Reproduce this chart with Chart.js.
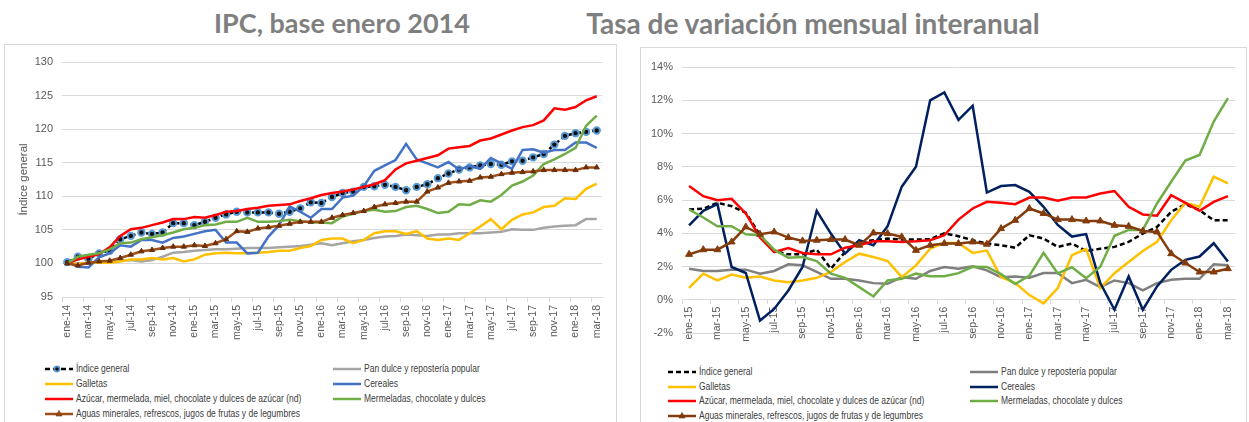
<!DOCTYPE html>
<html lang="es">
<head>
<meta charset="utf-8">
<title>IPC dulces y bebidas</title>
<script src="https://cdn.jsdelivr.net/npm/chart.js@4.4.1/dist/chart.umd.min.js"></script>
<style>
    body {
        margin: 0;
        background: #ffffff;
        width: 1249px;
        height: 422px;
        overflow: hidden;
        position: relative;
        font-family: 'Liberation Sans', sans-serif;
    }
    .titulo {
        position: absolute;
        top: 8px;
        height: 30px;
        line-height: 30px;
        font-family: Lato, 'Open Sans', sans-serif;
        font-weight: 700;
        font-size: 27px;
        color: #7f7f7f;
        text-align: center;
        white-space: nowrap;
    }
    .panel {
        position: absolute;
        border: 1px solid #d9d9d9;
        background: #ffffff;
    }
    canvas {
        position: absolute;
    }
    .leyenda-item {
        position: absolute;
        height: 14px;
        line-height: 14px;
        font-family: 'Liberation Sans', sans-serif;
        font-size: 10px;
        color: #404040;
        white-space: nowrap;
        display: flex;
        align-items: center;
    }
    .leyenda-item svg {
        margin-right: 3px;
        flex: none;
    }
    .leyenda-item span {
        display: inline-block;
        transform: scaleX(0.85);
        transform-origin: left center;
    }
</style>
</head>
<body>

<div class="titulo" style="left:142px; width:400px;">IPC, base enero 2014</div>
<div class="titulo" style="left:463px; width:700px; font-size:28px;">Tasa de variación mensual interanual</div>

<div class="panel" style="left:4px; top:44px; width:611px; height:400px;"></div>
<div class="panel" style="left:640px; top:47px; width:605px; height:400px;"></div>

<canvas id="graficoIPC" width="615" height="312" style="left:0; top:44px;"></canvas>
<canvas id="graficoVariacion" width="605" height="310" style="left:640px; top:47px;"></canvas>

<div id="leyendas"></div>

<script>
// Categorías (meses)
const MESES = ['ene', 'feb', 'mar', 'abr', 'may', 'jun', 'jul', 'ago', 'sep', 'oct', 'nov', 'dic'];
const ANIOS_IPC = ['14', '15', '16', '17', '18'];
const ANIOS_VAR = ['15', '16', '17', '18'];
const MESES_ULTIMO_ANIO = 3; // hasta mar-18

// Marcas del eje Y
const ticksIPC = [95, 100, 105, 110, 115, 120, 125, 130];
const ticksVariacion = [-2, 0, 2, 4, 6, 8, 10, 12, 14];

// Nombres de las series
const nombresSeries = [
    'Índice general',
    'Pan dulce y repostería popular',
    'Galletas',
    'Cereales',
    'Azúcar, mermelada,  miel, chocolate y dulces de azúcar (nd)',
    'Mermeladas, chocolate y dulces',
    'Aguas minerales, refrescos, jugos de frutas y de legumbres'
];

// IPC base enero 2014 (ene-14 .. mar-18)
const ipcGeneral = [100.2, 101.0, 100.7, 101.5, 101.9, 103.6, 104.1, 104.6, 104.4, 104.6,
    106.0, 106.0, 105.7, 106.2, 106.8, 107.3, 107.7, 107.6, 107.6, 107.6,
    107.4, 107.7, 108.2, 109.1, 109.0, 109.9, 110.5, 110.7, 111.4, 111.5,
    111.7, 111.4, 110.9, 111.4, 111.8, 112.7, 113.4, 114.0, 114.3, 114.6,
    114.8, 114.7, 115.2, 115.3, 115.8, 116.3, 117.7, 119.0, 119.4, 119.6, 119.8];
const ipcPanDulce = [100.0, 100.0, 100.1, 100.2, 100.3, 100.4, 100.5, 100.3, 100.5, 101.0,
    101.6, 101.7, 101.9, 102.0, 102.1, 102.1, 102.2, 102.3, 102.3, 102.3,
    102.4, 102.5, 102.6, 102.8, 103.0, 102.7, 103.0, 103.3, 103.5, 103.8,
    104.0, 104.1, 104.3, 104.2, 104.1, 104.3, 104.3, 104.5, 104.5, 104.5,
    104.6, 104.7, 105.1, 105.0, 105.0, 105.3, 105.5, 105.6, 105.7, 106.6, 106.6];
const ipcGalletas = [100.0, 99.9, 100.1, 100.1, 100.1, 100.3, 100.6, 100.6, 100.8, 100.6,
    100.8, 100.3, 100.6, 101.3, 101.5, 101.6, 101.5, 101.5, 101.6, 101.7,
    101.9, 101.9, 102.3, 102.6, 103.5, 103.7, 103.7, 103.0, 103.5, 104.5,
    104.8, 104.8, 104.4, 104.8, 103.7, 103.5, 103.7, 103.5, 104.5, 105.5,
    106.6, 105.1, 106.5, 107.3, 107.6, 108.4, 108.6, 109.7, 109.6, 111.1, 111.9];
const ipcCereales = [100.2, 99.5, 99.4, 100.9, 101.5, 102.7, 102.5, 103.5, 103.5, 103.1,
    103.8, 104.0, 104.4, 104.8, 105.0, 103.1, 103.1, 101.5, 101.6, 104.0,
    105.7, 108.5, 107.7, 106.8, 108.1, 108.1, 109.8, 110.1, 111.5, 113.8,
    114.6, 115.4, 117.8, 115.5, 114.9, 114.3, 115.1, 114.0, 114.5, 114.1,
    115.7, 114.9, 114.1, 116.9, 117.0, 116.5, 116.9, 116.9, 118.0, 118.0, 117.2];
const ipcAzucar = [100.0, 100.6, 101.0, 101.4, 102.4, 104.1, 105.1, 105.3, 105.7, 106.1,
    106.6, 106.6, 106.9, 106.8, 107.2, 107.7, 107.8, 108.1, 108.3, 108.6,
    108.7, 108.8, 109.3, 109.7, 110.2, 110.5, 110.7, 111.0, 111.4, 111.8,
    112.4, 114.0, 114.9, 115.3, 115.7, 116.1, 117.1, 117.3, 117.5, 118.3,
    118.6, 119.2, 119.8, 120.3, 120.6, 121.3, 123.1, 122.9, 123.3, 124.3, 124.9];
const ipcMermeladas = [100.0, 101.0, 101.3, 101.5, 102.1, 103.0, 103.1, 103.6, 103.9, 104.2,
    104.6, 105.1, 105.3, 105.7, 105.8, 106.2, 106.2, 106.8, 106.2, 106.2,
    106.3, 106.5, 106.3, 106.1, 106.1, 106.0, 107.0, 107.4, 107.8, 108.0,
    107.7, 107.8, 108.4, 108.6, 108.1, 107.5, 107.7, 108.8, 108.7, 109.4,
    109.2, 110.2, 111.6, 112.2, 113.1, 114.8, 115.5, 116.3, 117.2, 120.5, 122.0];
const ipcAguas = [100.0, 99.7, 100.1, 100.3, 100.4, 100.8, 101.3, 101.8, 102.0, 102.3,
    102.5, 102.5, 102.7, 102.6, 103.0, 103.6, 104.8, 104.7, 105.2, 105.4,
    105.6, 105.9, 106.2, 106.2, 106.2, 106.8, 107.2, 107.5, 107.8, 108.4,
    108.8, 109.0, 109.2, 109.2, 110.7, 111.3, 112.0, 112.2, 112.3, 112.8,
    112.9, 113.3, 113.5, 113.6, 113.7, 113.9, 113.9, 113.9, 113.9, 114.3, 114.3];

// Variación mensual interanual en % (ene-15 .. mar-18)
const varGeneral = [5.43, 5.47, 5.83, 5.63, 5.23, 3.9, 2.93, 2.73, 2.73, 3.01,
    1.87, 2.87, 3.48, 3.58, 3.68, 3.62, 3.62, 3.64, 4.0, 3.82,
    3.58, 3.38, 3.28, 3.13, 3.88, 3.68, 3.18, 3.38, 2.93, 3.07,
    3.18, 3.48, 3.98, 4.38, 5.29, 5.75, 5.39, 4.78, 4.78];
const varPanDulce = [1.87, 1.73, 1.73, 1.81, 1.81, 1.57, 1.73, 2.13, 2.07, 1.67,
    1.26, 1.26, 1.16, 1.0, 0.96, 1.36, 1.26, 1.73, 1.97, 1.87,
    2.01, 1.77, 1.36, 1.40, 1.32, 1.61, 1.61, 1.0, 1.2, 0.76,
    1.16, 1.0, 0.56, 1.0, 1.2, 1.26, 1.26, 2.13, 2.07];
const varGalletas = [0.72, 1.57, 1.16, 1.51, 1.32, 1.40, 1.16, 1.06, 1.16, 1.32,
    1.67, 2.27, 2.77, 2.57, 2.33, 1.36, 2.07, 3.07, 3.42, 3.42,
    2.82, 2.96, 1.36, 1.0, 0.28, -0.22, 0.7, 2.68, 3.05, 0.7,
    1.6, 2.27, 2.93, 3.48, 4.78, 5.83, 5.59, 7.40, 7.0];
const varCereales = [4.48, 5.35, 5.75, 1.97, 1.61, -1.25, -0.55, 0.56, 1.97, 5.35,
    3.98, 2.77, 3.58, 3.28, 4.42, 6.80, 8.00, 11.99, 12.47, 10.82,
    11.67, 6.45, 6.84, 6.90, 6.49, 5.59, 4.5, 3.8, 3.95, 1.0,
    -0.6, 1.4, -0.6, 0.8, 1.8, 2.4, 2.6, 3.4, 2.3];
const varAzucar = [6.84, 6.23, 5.99, 6.07, 5.19, 3.75, 2.87, 3.11, 2.81, 2.73,
    2.73, 3.13, 3.28, 3.52, 3.52, 3.48, 3.52, 3.58, 3.88, 4.82,
    5.49, 5.89, 5.83, 5.75, 6.15, 6.15, 5.95, 6.15, 6.15, 6.39,
    6.54, 5.59, 5.13, 5.05, 6.29, 5.83, 5.35, 5.89, 6.23];
const varMermeladas = [5.43, 4.95, 4.42, 4.42, 3.94, 3.88, 3.01, 2.53, 2.57, 2.33,
    1.57, 1.32, 0.76, 0.20, 1.16, 1.26, 1.57, 1.42, 1.42, 1.6,
    1.98, 1.97, 1.54, 0.95, 1.45, 2.82, 1.58, 1.96, 1.3, 1.98,
    3.85, 4.2, 4.2, 5.79, 7.10, 8.37, 8.71, 10.72, 12.13];
const varAguas = [2.73, 3.01, 3.01, 3.48, 4.38, 3.94, 4.08, 3.74, 3.54, 3.58,
    3.62, 3.62, 3.28, 4.02, 3.98, 3.78, 2.97, 3.28, 3.38, 3.38,
    3.48, 3.34, 4.28, 4.78, 5.49, 5.19, 4.82, 4.82, 4.74, 4.74,
    4.48, 4.42, 4.14, 4.08, 2.77, 2.21, 1.67, 1.67, 1.87];

// Colores
const coloresIPC = ['#000000', '#a5a5a5', '#ffc000', '#4472c4', '#ff0000', '#70ad47', '#9e4e17'];
const coloresVar = ['#000000', '#7f7f7f', '#ffc000', '#002060', '#ff0000', '#70ad47', '#843c0c'];

const GRIS_TEXTO = '#595959';
const GRIS_REJILLA = '#d9d9d9';
const FUENTE_NUM = "'Liberation Sans', sans-serif";

// Construir etiquetas "ene-14", "feb-14", ...
function construirMeses(anios) {
    const etiquetas = [];
    anios.forEach((anio, k) => {
        const limite = k === anios.length - 1 ? MESES_ULTIMO_ANIO : 12;
        for (let m = 0; m < limite; m++) {
            etiquetas.push(MESES[m] + '-' + anio);
        }
    });
    return etiquetas;
}

const categoriasIPC = construirMeses(ANIOS_IPC);
const categoriasVar = construirMeses(ANIOS_VAR);

// Dataset base
function serie(idx, datos, color, extra) {
    return Object.assign({
        label: nombresSeries[idx],
        data: datos,
        borderColor: color,
        backgroundColor: color,
        borderWidth: 2.5,
        pointRadius: 0,
        tension: 0,
        fill: false,
        order: 10 - idx
    }, extra || {});
}

// Eje X de categorías con etiqueta cada dos meses
function ejeMeses(extra) {
    return Object.assign({
        type: 'category',
        offset: true,
        grid: {
            offset: true,
            drawOnChartArea: false,
            tickLength: 5,
            color: ctx => (ctx.index % 2 === 0 ? GRIS_REJILLA : 'rgba(0,0,0,0)')
        },
        border: { color: GRIS_REJILLA, width: 1 },
        ticks: {
            autoSkip: false,
            minRotation: 90,
            maxRotation: 90,
            padding: 3,
            color: GRIS_TEXTO,
            font: { family: FUENTE_NUM, size: 10.5 },
            callback: function (valor, i) {
                return i % 2 === 0 ? this.getLabelForValue(valor) : '';
            }
        }
    }, extra);
}

// Gráfico izquierdo: IPC base enero 2014
new Chart(document.getElementById('graficoIPC').getContext('2d'), {
    type: 'line',
    data: {
        labels: categoriasIPC,
        datasets: [
            serie(0, ipcGeneral, coloresIPC[0], {
                borderDash: [5, 3],
                pointRadius: 3.2,
                pointStyle: 'circle',
                pointBackgroundColor: '#111111',
                pointBorderColor: '#5b9bd5',
                pointBorderWidth: 2
            }),
            serie(1, ipcPanDulce, coloresIPC[1]),
            serie(2, ipcGalletas, coloresIPC[2]),
            serie(3, ipcCereales, coloresIPC[3]),
            serie(4, ipcAzucar, coloresIPC[4]),
            serie(5, ipcMermeladas, coloresIPC[5]),
            serie(6, ipcAguas, coloresIPC[6], {
                pointRadius: 3,
                pointStyle: 'triangle',
                pointBackgroundColor: '#6b2f08',
                pointBorderColor: '#6b2f08',
                pointBorderWidth: 1
            })
        ]
    },
    options: {
        responsive: false,
        animation: false,
        devicePixelRatio: 1,
        layout: { padding: { top: 18, right: 13, bottom: 0, left: 0 } },
        plugins: { legend: { display: false }, tooltip: { enabled: false } },
        scales: {
            x: ejeMeses({
                afterFit: s => { s.height = 59; }
            }),
            y: {
                min: ticksIPC[0],
                max: ticksIPC[ticksIPC.length - 1],
                ticks: {
                    stepSize: ticksIPC[1] - ticksIPC[0],
                    padding: 9,
                    color: GRIS_TEXTO,
                    font: { family: FUENTE_NUM, size: 11 }
                },
                grid: { color: GRIS_REJILLA, drawTicks: false },
                border: { display: false },
                title: {
                    display: true,
                    text: 'Índice general',
                    color: GRIS_TEXTO,
                    font: { family: "'Liberation Sans', sans-serif", size: 11.5 },
                    padding: { top: 17, bottom: 0 }
                },
                afterFit: s => { s.width = 62; }
            }
        }
    }
});

// Gráfico derecho: tasa de variación mensual interanual
new Chart(document.getElementById('graficoVariacion').getContext('2d'), {
    type: 'line',
    data: {
        labels: categoriasVar,
        datasets: [
            serie(0, varGeneral, coloresVar[0], { borderDash: [5, 3] }),
            serie(1, varPanDulce, coloresVar[1]),
            serie(2, varGalletas, coloresVar[2]),
            serie(3, varCereales, coloresVar[3]),
            serie(4, varAzucar, coloresVar[4]),
            serie(5, varMermeladas, coloresVar[5]),
            serie(6, varAguas, coloresVar[6], {
                pointRadius: 4,
                pointStyle: 'triangle',
                pointBackgroundColor: coloresVar[6],
                pointBorderColor: coloresVar[6],
                pointBorderWidth: 1
            })
        ]
    },
    options: {
        responsive: false,
        animation: false,
        devicePixelRatio: 1,
        layout: { padding: { top: 20, right: 10, bottom: 24, left: 0 } },
        plugins: { legend: { display: false }, tooltip: { enabled: false } },
        scales: {
            x: ejeMeses({
                position: { y: 0 },
                grid: {
                    offset: true,
                    drawOnChartArea: false,
                    tickLength: 4,
                    color: ctx => (ctx.index % 2 === 0 ? GRIS_REJILLA : 'rgba(0,0,0,0)')
                }
            }),
            y: {
                min: ticksVariacion[0],
                max: ticksVariacion[ticksVariacion.length - 1],
                ticks: {
                    stepSize: ticksVariacion[1] - ticksVariacion[0],
                    padding: 9,
                    color: GRIS_TEXTO,
                    font: { family: FUENTE_NUM, size: 11 },
                    callback: v => v + '%'
                },
                grid: { color: GRIS_REJILLA, drawTicks: false },
                border: { display: false },
                afterFit: s => { s.width = 42; }
            }
        }
    }
});

// Leyendas HTML (dos columnas, como en el original)
function muestra(color, tipo) {
    let svg = '<svg width="28" height="10" viewBox="0 0 28 10">';
    if (tipo === 'dash' || tipo === 'dashMarker') {
        svg += '<line x1="0" y1="5" x2="28" y2="5" stroke="#000" stroke-width="2.5" stroke-dasharray="5,3"/>';
        if (tipo === 'dashMarker') {
            svg += '<circle cx="12" cy="5" r="2.6" fill="#111" stroke="#5b9bd5" stroke-width="1.6"/>';
        }
    } else {
        svg += '<line x1="0" y1="5" x2="28" y2="5" stroke="' + color + '" stroke-width="2.5"/>';
        if (tipo === 'tri') {
            svg += '<polygon points="14,1.5 17,7 11,7" fill="' + color + '" stroke="#6b2f08" stroke-width="0.6"/>';
        }
    }
    return svg + '</svg>';
}

function dibujarLeyenda(cont, colores, xCol, yFilas, tipoIndice) {
    // orden: fila por fila, izquierda y derecha
    const posiciones = [[0, 0], [1, 0], [0, 1], [1, 1], [0, 2], [1, 2], [0, 3]];
    nombresSeries.forEach((nombre, i) => {
        const [col, fila] = posiciones[i];
        const tipo = i === 0 ? tipoIndice : (i === 6 ? 'tri' : 'line');
        const div = document.createElement('div');
        div.className = 'leyenda-item';
        div.style.left = xCol[col] + 'px';
        div.style.top = (yFilas[fila] - 7) + 'px';
        div.innerHTML = muestra(colores[i], tipo) + '<span>' + nombre + '</span>';
        cont.appendChild(div);
    });
}

const contLeyendas = document.getElementById('leyendas');
dibujarLeyenda(contLeyendas, coloresIPC, [45, 333], [369, 384, 399, 414], 'dashMarker');
dibujarLeyenda(contLeyendas, coloresVar, [668, 970], [372, 387, 401, 416], 'dash');
</script>
</body>
</html>
